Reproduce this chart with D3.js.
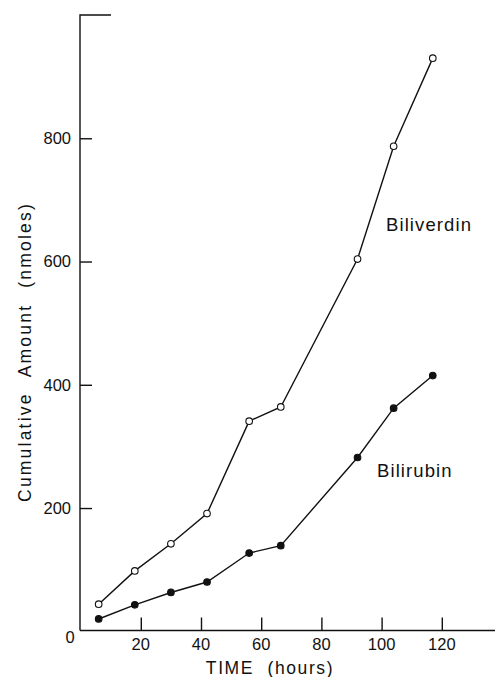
<!DOCTYPE html>
<html>
<head>
<meta charset="utf-8">
<script src="https://cdn.jsdelivr.net/npm/d3@7"></script>
<style>
  html, body { margin: 0; padding: 0; background: #fff; }
  svg { display: block; }
  text { font-family: "Liberation Sans", Arial, Helvetica, sans-serif; fill: #111; }
</style>
</head>
<body>
<svg id="chart" width="496" height="677"></svg>
<script>
// Sampling times (hours)
const hours = [6, 18, 30, 42, 56, 66.5, 92, 104, 117];
// Cumulative amounts (nmoles)
const biliverdin = [44, 98, 142, 191, 341, 364, 604, 787, 930];
const bilirubin  = [20, 43, 63, 80, 127, 139, 282, 362, 415];
// Axis ticks
const xTicks = [20, 40, 60, 80, 100, 120];
const yTicks = [200, 400, 600, 800];

const svg = d3.select("#chart");
const ink = "#111";

const x = d3.scaleLinear().domain([0, 120]).range([80.6, 441.8]);
const y = d3.scaleLinear().domain([0, 1000]).range([631.3, 15]);

const x0 = 80, yBase = 630.5;

// Y axis: vertical line with a short cap at the top, ticks pointing inward
svg.append("path")
  .attr("d", `M${x0 + 31},${y(1000)}H${x0}V${yBase}`)
  .attr("fill", "none").attr("stroke", ink).attr("stroke-width", 1.4);

const yAxis = d3.axisRight(y).tickValues(yTicks).tickSize(12).tickFormat("");
svg.append("g").attr("transform", `translate(${x0},0)`).call(yAxis)
  .call(g => g.select(".domain").remove())
  .call(g => g.selectAll("line").attr("stroke", ink).attr("stroke-width", 1.4));

svg.append("g").selectAll("text").data(yTicks).join("text")
  .attr("x", 71).attr("y", d => y(d)).attr("dy", "0.36em")
  .attr("text-anchor", "end").attr("font-size", 16.5)
  .text(d => d);

// X axis: baseline with upward ticks
svg.append("line")
  .attr("x1", x0).attr("x2", 495).attr("y1", yBase).attr("y2", yBase)
  .attr("stroke", ink).attr("stroke-width", 1.4);

const xAxis = d3.axisTop(x).tickValues(xTicks).tickSize(13).tickFormat("");
svg.append("g").attr("transform", `translate(0,${yBase})`).call(xAxis)
  .call(g => g.select(".domain").remove())
  .call(g => g.selectAll("line").attr("stroke", ink).attr("stroke-width", 1.4));

svg.append("g").selectAll("text").data(xTicks).join("text")
  .attr("x", d => x(d)).attr("y", 650)
  .attr("text-anchor", "middle").attr("font-size", 16.5)
  .text(d => d);

// Shared origin label
svg.append("text").attr("x", 70).attr("y", 643)
  .attr("text-anchor", "middle").attr("font-size", 16.5).text("0");

// Axis titles
svg.append("text")
  .attr("x", 270).attr("y", 674)
  .attr("text-anchor", "middle").attr("font-size", 17.5)
  .attr("letter-spacing", 1.6).attr("word-spacing", 7)
  .text("TIME (hours)");

svg.append("text")
  .attr("transform", "translate(31,352) rotate(-90)")
  .attr("text-anchor", "middle").attr("font-size", 17.5)
  .attr("letter-spacing", 2.2).attr("word-spacing", 9)
  .text("Cumulative Amount (nmoles)");

// Series
const line = d3.line().x(d => x(d[0])).y(d => y(d[1]));
const series = [
  { name: "Biliverdin", values: biliverdin, fill: "#fff" },
  { name: "Bilirubin",  values: bilirubin,  fill: ink }
];

series.forEach(s => {
  const pts = hours.map((h, i) => [h, s.values[i]]);
  svg.append("path").datum(pts)
    .attr("d", line).attr("fill", "none")
    .attr("stroke", ink).attr("stroke-width", 1.4);
  svg.append("g").selectAll("circle").data(pts).join("circle")
    .attr("cx", d => x(d[0])).attr("cy", d => y(d[1]))
    .attr("r", 3.3).attr("fill", s.fill)
    .attr("stroke", ink).attr("stroke-width", 1.1);
});

// Series labels
svg.append("text").attr("x", 386).attr("y", 231)
  .attr("font-size", 18.5).attr("letter-spacing", 1.1).text("Biliverdin");
svg.append("text").attr("x", 377).attr("y", 477)
  .attr("font-size", 18.5).attr("letter-spacing", 1.1).text("Bilirubin");
</script>
</body>
</html>
